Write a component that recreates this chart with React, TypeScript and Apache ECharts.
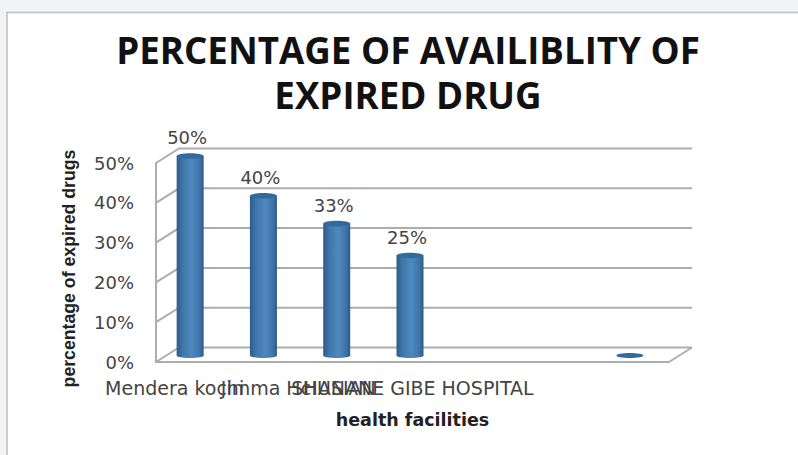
import React, { useEffect, useRef } from "react";
import * as echarts from "echarts";

const categories = ["Mendera kochi", "Jimma Hc", "HUSIAN", "SHANANE GIBE HOSPITAL", "", "", ""];
const values: (number | null)[] = [50, 40, 33, 25, null, null, 0];
const yTicks = [0, 10, 20, 30, 40, 50];
const titleText = "PERCENTAGE OF AVAILIBLITY OF\nEXPIRED DRUG";
const yName = "percentage of expired drugs";
const xName = "health facilities";

const DX = 23, DY = -14.5, LINE = "#adadad", LABEL = "#444444";

export default function App() {
  const ref = useRef<HTMLDivElement>(null);
  useEffect(() => {
    const chart = echarts.init(ref.current!, undefined, { renderer: "svg" });
    const barFill = new echarts.graphic.LinearGradient(0, 0, 1, 0, [
      { offset: 0, color: "#2c5d8c" },
      { offset: 0.22, color: "#3f75a9" },
      { offset: 0.55, color: "#4f88c0" },
      { offset: 0.85, color: "#3f74a8" },
      { offset: 1, color: "#2b5a86" },
    ]);
    chart.setOption({
      animation: false,
      backgroundColor: "#f1f3f5",
      graphic: [{
        type: "rect", z: -10, silent: true,
        shape: { x: 7, y: 12.5, width: 810, height: 460 },
        style: { fill: "#ffffff", stroke: "#c0c0c0", lineWidth: 1.5 },
      }],
      title: {
        text: titleText, left: 403, top: 22, textAlign: "center",
        textStyle: { fontFamily: "Open Sans", fontWeight: "bold", fontSize: 36.7, lineHeight: 45, color: "#111111" },
      },
      grid: { left: 156, top: 163, width: 513, height: 199 },
      xAxis: {
        type: "category", data: categories,
        name: xName, nameLocation: "middle", nameGap: 49,
        nameTextStyle: { fontFamily: "DejaVu Sans", fontWeight: "bold", fontSize: 17.5, color: "#222222" },
        axisLine: { show: true, lineStyle: { color: LINE, width: 2 } },
        axisTick: { show: false },
        axisLabel: {
          interval: 0, margin: 16, hideOverlap: false,
          fontFamily: "DejaVu Sans", fontSize: 19, color: LABEL,
          formatter: (v: string, i: number) => (i === 0 ? `{first|${v}}` : v),
          rich: { first: { padding: [0, 36, 0, 0], fontFamily: "DejaVu Sans", fontSize: 19, color: LABEL } },
        },
      },
      yAxis: {
        type: "value", min: 0, max: 50, interval: 10,
        name: yName, nameLocation: "middle", nameGap: 78,
        nameTextStyle: { fontFamily: "Liberation Sans", fontWeight: "bold", fontSize: 17.7, color: "#222222", padding: [0, 12, 0, 0] },
        axisLine: { show: true, lineStyle: { color: LINE, width: 2 } },
        axisTick: { show: false },
        splitLine: { show: false },
        axisLabel: { margin: 22, fontFamily: "DejaVu Sans", fontSize: 18, color: LABEL, formatter: "{value}%" },
      },
      series: [
        {
          type: "custom", silent: true, z: 1, clip: false,
          data: yTicks.map((v) => [0, v]),
          encode: { x: 0, y: 1 },
          renderItem: (params: any, api: any) => {
            const cs = params.coordSys;
            const v = api.value(1);
            const y = api.coord([0, v])[1];
            const x0 = cs.x, x1 = cs.x + cs.width;
            const style = { stroke: LINE, lineWidth: 2, fill: "none" };
            const kids: any[] = [{
              type: "polyline",
              shape: { points: [[x0, y], [x0 + DX, y + DY], [x1 + DX, y + DY]] },
              style,
            }];
            if (v === 0) {
              kids.push({ type: "line", shape: { x1, y1: y, x2: x1 + DX, y2: y + DY }, style });
            }
            return { type: "group", children: kids };
          },
        },
        {
          type: "custom", silent: true, z: 3, clip: false,
          data: values.map((v, i) => [i, v]).filter((d) => d[1] !== null),
          encode: { x: 0, y: 1 },
          renderItem: (_params: any, api: any) => {
            const v = api.value(1);
            const base = api.coord([api.value(0), 0]);
            const top = api.coord([api.value(0), v]);
            const cx = base[0] - 2.5;
            const yb = base[1] - 6.5;
            const yt = top[1] - 7;
            const rx = 13.5;
            if (v === 0) {
              return {
                type: "ellipse",
                shape: { cx, cy: yb, rx, ry: 2.5 },
                style: { fill: "#336a9c" },
              };
            }
            return {
              type: "group",
              children: [
                { type: "ellipse", shape: { cx, cy: yb, rx, ry: 2.5 }, style: { fill: barFill } },
                { type: "rect", shape: { x: cx - rx, y: yt, width: rx * 2, height: yb - yt }, style: { fill: barFill } },
                { type: "ellipse", shape: { cx, cy: yt, rx, ry: 2.8 }, style: { fill: "#336a9c" } },
                {
                  type: "text",
                  style: {
                    text: v + "%", x: cx - 3, y: yt - 18.5, align: "center", verticalAlign: "middle",
                    fontFamily: "DejaVu Sans", fontSize: 18, fill: LABEL,
                  },
                },
              ],
            };
          },
        },
      ],
    });
    return () => chart.dispose();
  }, []);
  return <div ref={ref} style={{ position: "fixed", left: 0, top: 0, width: 798, height: 455 }} />;
}
